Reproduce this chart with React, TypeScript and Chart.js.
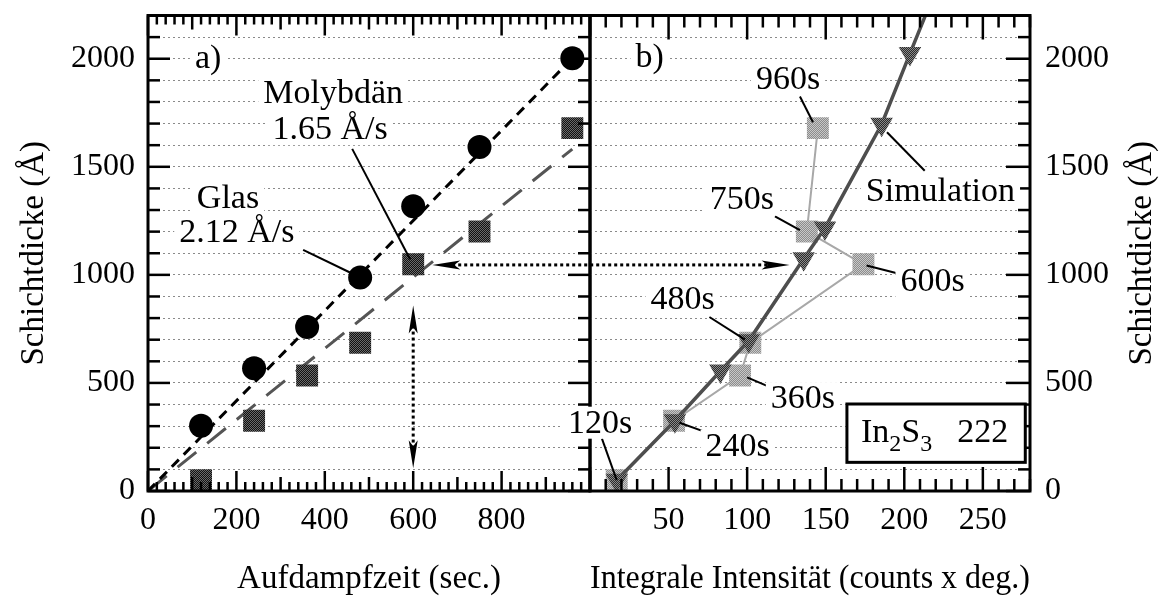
import React, { useEffect, useRef } from 'react';
import { Chart, registerables } from 'chart.js';

Chart.register(...registerables);

const SERIF = "'Liberation Serif', 'Times New Roman', serif";

// ---- Teil a): Schichtdicke über Aufdampfzeit ----
const aufdampfzeit = [120, 240, 360, 480, 600, 750, 960];
const glasDicke = [302, 568, 759, 988, 1317, 1592, 2002];
const molybdaenDicke = [50, 325, 534, 686, 1049, 1201, 1679];
const fitZeit = [0, 960];
const glasFit = [0, 2002];
const molybdaenFit = [0, 1582];
const zeitTickLabels = [0, 200, 400, 600, 800];

// ---- Teil b): Schichtdicke über integrale Intensität ----
const messIntensitaet = [17, 53.5, 95.5, 102, 174, 138, 145];
const simIntensitaet = [17, 54, 83, 101, 136, 149.5, 185.6, 203.6, 219];
const simDicke = [50, 325, 555, 695, 1075, 1217, 1697, 2024, 2300];
const intensitaetTickLabels = [50, 100, 150, 200, 250];
const dickeTickLabels = [0, 500, 1000, 1500, 2000];

// annotation layout (in data coordinates of each panel)
const notesA = [
  { t: 'a)', x: 136, y: 2003 },
  { t: 'Molybdän', x: 419, y: 1843 },
  { t: '1.65 Å/s', x: 412, y: 1674 },
  { t: 'Glas', x: 181, y: 1354 },
  { t: '2.12 Å/s', x: 201, y: 1198 },
];
const pointersA = [
  [462, 1583, 593, 1072],
  [351, 1116, 457, 1011],
];
const notesB = [
  { t: 'b)', x: 38, y: 2008 },
  { t: '960s', x: 126, y: 1907 },
  { t: '750s', x: 96.7, y: 1349 },
  { t: 'Simulation', x: 223, y: 1386 },
  { t: '600s', x: 218, y: 970 },
  { t: '480s', x: 59, y: 887 },
  { t: '360s', x: 135.5, y: 430 },
  { t: '240s', x: 94, y: 210 },
  { t: '120s', x: 6.4, y: 316 },
];
const pointersB = [
  [133.6, 1825, 141.9, 1706],
  [117.7, 1271, 133.6, 1207],
  [189, 1660, 213, 1482],
  [176, 1043, 198.5, 1002],
  [76, 805, 98.6, 700],
  [100, 526, 116, 476],
  [57, 316, 74.5, 270],
  [7.6, 242, 17, 50],
];

function dither(c1: string, c2: string): CanvasPattern | string {
  const cv = document.createElement('canvas');
  cv.width = 2;
  cv.height = 2;
  const g = cv.getContext('2d');
  if (!g) return c1;
  g.fillStyle = c1;
  g.fillRect(0, 0, 2, 2);
  g.fillStyle = c2;
  g.fillRect(0, 0, 1, 1);
  g.fillRect(1, 1, 1, 1);
  return g.createPattern(cv, 'repeat') || c1;
}

function seg(ctx: CanvasRenderingContext2D, x1: number, y1: number, x2: number, y2: number) {
  ctx.beginPath();
  ctx.moveTo(x1, y1);
  ctx.lineTo(x2, y2);
  ctx.stroke();
}

function label(ctx: CanvasRenderingContext2D, text: string, x: number, y: number) {
  ctx.font = `34px ${SERIF}`;
  ctx.textAlign = 'center';
  ctx.textBaseline = 'middle';
  const w = ctx.measureText(text).width;
  ctx.fillStyle = '#fff';
  ctx.fillRect(x - w / 2 - 5, y - 16, w + 10, 32);
  ctx.fillStyle = '#000';
  ctx.fillText(text, x, y + 1);
}

function arrowHead(ctx: CanvasRenderingContext2D, tx: number, ty: number, dx: number, dy: number) {
  const L = 28, W = 4.5;
  const bx = tx - dx * L, by = ty - dy * L;
  const nx = -dy, ny = dx;
  ctx.beginPath();
  ctx.moveTo(tx, ty);
  ctx.lineTo(bx + nx * W, by + ny * W);
  ctx.lineTo(bx + dx * 6, by + dy * 6);
  ctx.lineTo(bx - nx * W, by - ny * W);
  ctx.closePath();
  ctx.fill();
}

export default function App() {
  const refA = useRef<HTMLCanvasElement>(null);
  const refB = useRef<HTMLCanvasElement>(null);

  useEffect(() => {
    Chart.defaults.font.family = SERIF;
    Chart.defaults.color = '#000';

    const darkSq = dither('#111', '#6a6a6a');
    const lightSq = dither('#8c8c8c', '#c8c8c8');
    const triFill = dither('#2a2a2a', '#8a8a8a');

    const frameA = {
      id: 'frameA',
      afterDraw(chart: any) {
        const { ctx, chartArea: a } = chart;
        const xs = chart.scales.x, ys = chart.scales.y;
        ctx.save();
        ctx.setLineDash([]);
        ctx.strokeStyle = '#000';
        ctx.lineWidth = 2.5;
        for (let v = 0; v <= 2200; v += 100) {
          const py = ys.getPixelForValue(v);
          const len = v % 500 === 0 ? 22 : 12;
          seg(ctx, a.left, py, a.left + len, py);
          seg(ctx, a.right, py, a.right - len, py);
        }
        for (let v = 0; v <= 1000; v += 20) {
          const px = xs.getPixelForValue(v);
          const len = v % 200 === 0 ? 20 : v % 100 === 0 ? 14 : 9;
          seg(ctx, px, a.bottom, px, a.bottom - len);
          seg(ctx, px, a.top, px, a.top + len);
        }
        ctx.lineWidth = 3;
        ctx.strokeRect(a.left, a.top, a.right - a.left, a.bottom - a.top);

        // pointers
        ctx.lineWidth = 2;
        pointersA.forEach(([x1, y1, x2, y2]) =>
          seg(ctx, xs.getPixelForValue(x1), ys.getPixelForValue(y1), xs.getPixelForValue(x2), ys.getPixelForValue(y2)));
        notesA.forEach((n) => label(ctx, n.t, xs.getPixelForValue(n.x), ys.getPixelForValue(n.y)));

        // vertical dotted double arrow at 600 s
        const vx = xs.getPixelForValue(600);
        const vTop = ys.getPixelForValue(858), vBot = ys.getPixelForValue(105);
        ctx.lineWidth = 3;
        ctx.setLineDash([3, 3]);
        seg(ctx, vx, vTop + 20, vx, vBot - 20);
        ctx.setLineDash([]);
        ctx.fillStyle = '#000';
        arrowHead(ctx, vx, vTop, 0, -1);
        arrowHead(ctx, vx, vBot, 0, 1);
        ctx.restore();
      },
    };

    const chartA = new Chart(refA.current as HTMLCanvasElement, {
      type: 'scatter',
      data: {
        datasets: [
          {
            data: aufdampfzeit.map((x, i) => ({ x, y: glasDicke[i] })),
            pointStyle: 'circle', pointRadius: 12, backgroundColor: '#000', borderWidth: 0, order: 0,
          },
          {
            data: aufdampfzeit.map((x, i) => ({ x, y: molybdaenDicke[i] })),
            pointStyle: 'rect', pointRadius: 15.5, backgroundColor: darkSq as any, borderWidth: 0, order: 1,
          },
          {
            data: fitZeit.map((x, i) => ({ x, y: glasFit[i] })),
            showLine: true, pointRadius: 0, borderColor: '#000', borderWidth: 3, borderDash: [10, 7], order: 2,
          },
          {
            data: fitZeit.map((x, i) => ({ x, y: molybdaenFit[i] })),
            showLine: true, pointRadius: 0, borderColor: '#555', borderWidth: 3, borderDash: [24, 14], order: 3,
          },
        ] as any,
      },
      options: {
        responsive: false,
        animation: false,
        devicePixelRatio: 1,
        events: [],
        layout: { padding: { left: 0, top: 10, right: 585, bottom: 0 } },
        plugins: { legend: { display: false }, tooltip: { enabled: false } },
        scales: {
          x: {
            type: 'linear', min: 0, max: 1000,
            grid: { display: false, drawTicks: false },
            border: { display: false },
            afterBuildTicks: (s: any) => { s.ticks = zeitTickLabels.map((value) => ({ value })); },
            ticks: {
              autoSkip: false, maxRotation: 0, padding: 10, font: { size: 32 }, color: '#000',
              callback: (v: any) => String(v),
            },
            title: { display: true, text: 'Aufdampfzeit (sec.)', font: { size: 33 }, color: '#000', padding: { top: 0, bottom: 1 } },
            afterFit: (s: any) => { s.height = 109; s.paddingLeft = 0; s.paddingRight = 0; },
          },
          y: {
            type: 'linear', min: 0, max: 2200,
            grid: { color: '#8a8a8a', lineWidth: 1, drawTicks: false },
            border: { display: false, dash: [2, 3] },
            ticks: {
              stepSize: 100, autoSkip: false, padding: 13, font: { size: 32 }, color: '#000',
              callback: (v: any) => (dickeTickLabels.includes(Number(v)) ? String(v) : ''),
            },
            title: { display: true, text: 'Schichtdicke (Å)', font: { size: 33 }, color: '#000', padding: { top: 15, bottom: 0 } },
            afterFit: (s: any) => { s.width = 148; s.paddingTop = 0; s.paddingBottom = 0; },
          },
        } as any,
      },
      plugins: [frameA],
    });

    const frameB = {
      id: 'frameB',
      afterDraw(chart: any) {
        const { ctx, chartArea: a } = chart;
        const xs = chart.scales.x, ys = chart.scales.y;
        ctx.save();
        ctx.setLineDash([]);
        ctx.strokeStyle = '#000';
        ctx.lineWidth = 2.5;
        for (let v = 0; v <= 280; v += 10) {
          const px = xs.getPixelForValue(v);
          const len = v % 50 === 0 ? 24 : 12;
          seg(ctx, px, a.bottom, px, a.bottom - len);
          seg(ctx, px, a.top, px, a.top + len);
        }
        for (let v = 0; v <= 2200; v += 100) {
          const py = ys.getPixelForValue(v);
          const len = v % 500 === 0 ? 24 : 12;
          seg(ctx, a.right, py, a.right - len, py);
        }
        ctx.lineWidth = 3;
        ctx.strokeRect(a.left, a.top, a.right - a.left, a.bottom - a.top);

        // right axis title (reads bottom to top)
        ctx.save();
        ctx.translate(chart.width - 33, (a.top + a.bottom) / 2);
        ctx.rotate(-Math.PI / 2);
        ctx.font = `33px ${SERIF}`;
        ctx.textAlign = 'center';
        ctx.textBaseline = 'middle';
        ctx.fillStyle = '#000';
        ctx.fillText('Schichtdicke (Å)', 0, 0);
        ctx.restore();

        ctx.lineWidth = 2;
        pointersB.forEach(([x1, y1, x2, y2]) =>
          seg(ctx, xs.getPixelForValue(x1), ys.getPixelForValue(y1), xs.getPixelForValue(x2), ys.getPixelForValue(y2)));
        notesB.forEach((n) => label(ctx, n.t, xs.getPixelForValue(n.x), ys.getPixelForValue(n.y)));

        // horizontal dotted double arrow from panel a) to panel b)
        const lx = chartA.scales.x.getPixelForValue(643);
        const hy = chartA.scales.y.getPixelForValue(1046);
        const rx = xs.getPixelForValue(127);
        ctx.lineWidth = 3;
        ctx.setLineDash([3, 3]);
        seg(ctx, lx + 20, hy, rx - 20, hy);
        ctx.setLineDash([]);
        ctx.fillStyle = '#000';
        arrowHead(ctx, lx, hy, -1, 0);
        arrowHead(ctx, rx, hy, 1, 0);

        // In2S3 222 box
        const bx1 = xs.getPixelForValue(163.5), by1 = ys.getPixelForValue(402.5);
        const bx2 = xs.getPixelForValue(277), by2 = ys.getPixelForValue(132.6);
        ctx.fillStyle = '#fff';
        ctx.fillRect(bx1, by1, bx2 - bx1, by2 - by1);
        ctx.lineWidth = 3;
        ctx.strokeRect(bx1, by1, bx2 - bx1, by2 - by1);
        ctx.fillStyle = '#000';
        ctx.textAlign = 'left';
        ctx.textBaseline = 'alphabetic';
        const base = by1 + 38;
        let cx = bx1 + 14;
        ctx.font = `34px ${SERIF}`;
        ctx.fillText('In', cx, base);
        cx += ctx.measureText('In').width;
        ctx.font = `24px ${SERIF}`;
        ctx.fillText('2', cx, base + 9);
        cx += ctx.measureText('2').width;
        ctx.font = `34px ${SERIF}`;
        ctx.fillText('S', cx, base);
        cx += ctx.measureText('S').width;
        ctx.font = `24px ${SERIF}`;
        ctx.fillText('3', cx, base + 9);
        ctx.font = `34px ${SERIF}`;
        ctx.textAlign = 'right';
        ctx.fillText('222', bx2 - 17, base);
        ctx.restore();
      },
    };

    const chartB = new Chart(refB.current as HTMLCanvasElement, {
      type: 'scatter',
      data: {
        datasets: [
          {
            data: simIntensitaet.map((x, i) => ({ x, y: simDicke[i] })),
            showLine: true, borderColor: '#4e4e4e', borderWidth: 3.5,
            pointStyle: 'triangle', pointRotation: 180,
            pointRadius: simDicke.map((_, i) => (i === simDicke.length - 1 ? 0 : 13)),
            pointBackgroundColor: triFill as any, pointBorderWidth: 0, order: 0,
          },
          {
            data: messIntensitaet.map((x, i) => ({ x, y: molybdaenDicke[i] })),
            showLine: true, borderColor: '#a8a8a8', borderWidth: 2,
            pointStyle: 'rect', pointRadius: 15.5,
            pointBackgroundColor: lightSq as any, pointBorderWidth: 0, order: 1,
          },
        ] as any,
      },
      options: {
        responsive: false,
        animation: false,
        devicePixelRatio: 1,
        events: [],
        layout: { padding: { left: 590, top: 10, right: 0, bottom: 0 } },
        plugins: { legend: { display: false }, tooltip: { enabled: false } },
        scales: {
          x: {
            type: 'linear', min: 0, max: 280,
            grid: { display: false, drawTicks: false },
            border: { display: false },
            afterBuildTicks: (s: any) => { s.ticks = intensitaetTickLabels.map((value) => ({ value })); },
            ticks: {
              autoSkip: false, maxRotation: 0, padding: 10, font: { size: 32 }, color: '#000',
              callback: (v: any) => String(v),
            },
            title: { display: true, text: 'Integrale Intensität (counts x deg.)', font: { size: 33 }, color: '#000', padding: { top: 0, bottom: 1 } },
            afterFit: (s: any) => { s.height = 109; s.paddingLeft = 0; s.paddingRight = 0; },
          },
          y: {
            type: 'linear', position: 'right', min: 0, max: 2200,
            grid: { color: '#8a8a8a', lineWidth: 1, drawTicks: false },
            border: { display: false, dash: [2, 3] },
            ticks: {
              stepSize: 100, autoSkip: false, padding: 15, font: { size: 32 }, color: '#000',
              callback: (v: any) => (dickeTickLabels.includes(Number(v)) ? String(v) : ''),
            },
            title: { display: false },
            afterFit: (s: any) => { s.width = 145; s.paddingTop = 0; s.paddingBottom = 0; },
          },
        } as any,
      },
      plugins: [frameB],
    });

    return () => {
      chartB.destroy();
      chartA.destroy();
    };
  }, []);

  return (
    <div style={{ position: 'fixed', left: 0, top: 0, width: 1175, height: 600, background: '#fff' }}>
      <canvas ref={refA} width={1175} height={600} style={{ position: 'absolute', left: 0, top: 0 }} />
      <canvas ref={refB} width={1175} height={600} style={{ position: 'absolute', left: 0, top: 0 }} />
    </div>
  );
}
